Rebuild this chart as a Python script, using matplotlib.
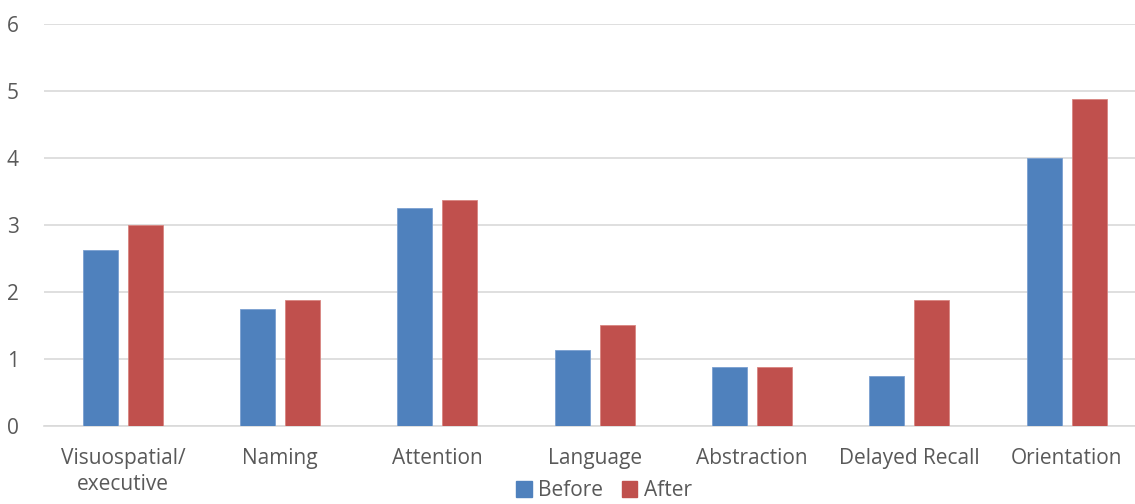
import numpy as np
import matplotlib
matplotlib.use("Agg")
import matplotlib.pyplot as plt
from matplotlib.patches import Patch

categories = ["Visuospatial/\nexecutive", "Naming", "Attention", "Language",
              "Abstraction", "Delayed Recall", "Orientation"]
before = [2.625, 1.75, 3.25, 1.125, 0.875, 0.75, 4.0]
after = [3.0, 1.875, 3.375, 1.5, 0.875, 1.875, 4.875]

blue = "#4F81BD"
red = "#C0504D"
text_col = "#595959"

plt.rcParams["font.family"] = ["Open Sans", "DejaVu Sans"]

fig = plt.figure(figsize=(11.35, 5.04), dpi=100)
ax = fig.add_axes([0.039, 0.155, 0.97, 0.798])

x = np.arange(len(categories))
w = 0.2225
ax.bar(x - 0.143, before, w, color=blue, edgecolor="#7A9FD0", linewidth=0.6, zorder=3)
ax.bar(x + 0.143, after, w, color=red, edgecolor="#D88580", linewidth=0.6, zorder=3)

ax.set_xlim(-0.5, len(categories) - 0.5)
ax.set_ylim(0, 6)
ax.set_yticks(range(7))
ax.yaxis.grid(True, color="#D9D9D9", linewidth=1.2, zorder=0)
ax.set_axisbelow(True)
for s in ["top", "right", "left"]:
    ax.spines[s].set_visible(False)
ax.spines["bottom"].set_color("#D9D9D9")
ax.spines["bottom"].set_linewidth(1.2)
ax.tick_params(axis="both", length=0, colors=text_col, labelsize=15)
ax.tick_params(axis="y", pad=27)
ax.tick_params(axis="x", pad=16)
ax.set_xticks(x)
ax.set_xticklabels(categories, linespacing=1.3)
for lbl in ax.get_yticklabels():
    lbl.set_horizontalalignment("left")

handles = [Patch(color=blue, label="Before"), Patch(color=red, label="After")]
fig.legend(handles=handles, loc="lower center", bbox_to_anchor=(0.532, -0.032), ncol=2,
           frameon=False, fontsize=15, handlelength=0.75, handleheight=0.75,
           handletextpad=0.3, columnspacing=0.9, labelcolor=text_col)

fig.savefig("out.png", dpi=100)
